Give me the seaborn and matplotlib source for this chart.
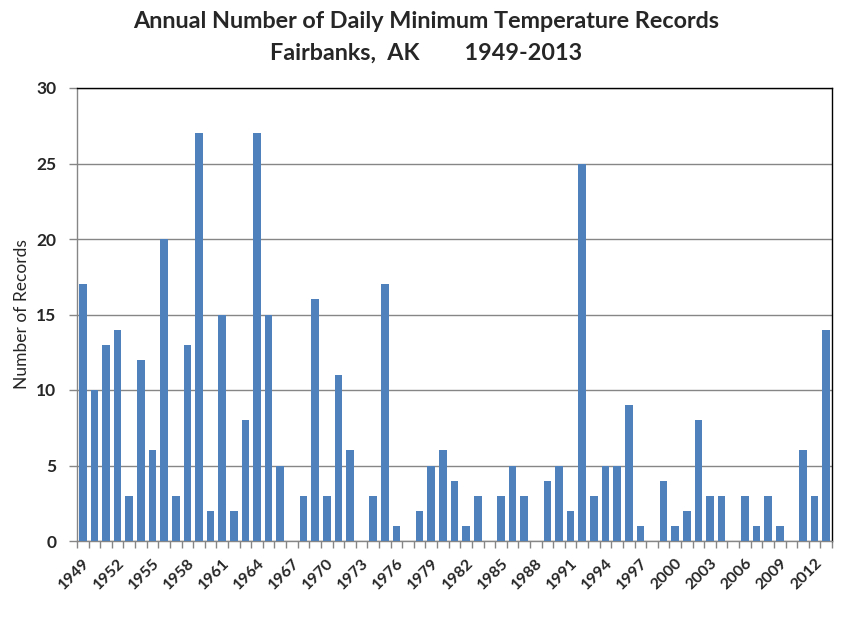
import numpy as np
import pandas as pd
import matplotlib
matplotlib.use("Agg")
import matplotlib.pyplot as plt
import seaborn as sns
from matplotlib.ticker import MultipleLocator, FixedLocator

# %% data

years = list(range(1949, 2014))
records = [17, 10, 13, 14, 3, 12, 6, 20, 3, 13,
           27, 2, 15, 2, 8, 27, 15, 5, 0, 3,
           16, 3, 11, 6, 0, 3, 17, 1, 0, 2,
           5, 6, 4, 1, 3, 0, 3, 5, 3, 0,
           4, 5, 2, 25, 3, 5, 5, 9, 1, 0,
           4, 1, 2, 8, 3, 3, 0, 3, 1, 3,
           1, 0, 6, 3, 14]
label_years = years[::3]

df = pd.DataFrame({"year": [str(y) for y in years], "records": records})

# %% config

sns.set_theme(style="white")
plt.rcParams['font.family'] = ['Lato', 'DejaVu Sans']

fig = plt.figure(figsize=(8.51, 6.38), dpi=100)
ax = fig.add_axes([77 / 851, 1 - 541 / 638, (832 - 77) / 851, (541 - 88) / 638])

# %% plot

sns.barplot(data=df, x="year", y="records", color="#4F81BD", saturation=1,
            width=0.66, linewidth=0, ax=ax, zorder=3)

ax.set_xlim(-0.5, len(years) - 0.5)
ax.set_ylim(0, 30)
ax.yaxis.set_major_locator(MultipleLocator(5))
ax.yaxis.grid(True, color="#868686", linewidth=1, zorder=0)
ax.set_axisbelow(True)

ax.set_xticks([years.index(y) for y in label_years])
ax.set_xticklabels([str(y) for y in label_years], rotation=45, ha="right",
                   rotation_mode="anchor", fontsize=11.5, fontweight="bold")
ax.xaxis.set_minor_locator(FixedLocator(np.arange(-0.5, len(years), 1)))
ax.tick_params(axis="x", which="major", length=0, pad=11)
ax.tick_params(axis="x", which="minor", length=5, width=1, color="#868686",
               direction="out", bottom=True)
ax.tick_params(axis="y", length=6, width=1, color="#868686", direction="out",
               left=True, pad=9, labelsize=12.5)
for lab in ax.get_yticklabels():
    lab.set_fontweight("bold")

ax.set_xlabel("")
ax.set_ylabel("Number of Records", fontsize=12.5, labelpad=4)

for side in ["top", "right"]:
    ax.spines[side].set_color("black")
    ax.spines[side].set_linewidth(1)
for side in ["left", "bottom"]:
    ax.spines[side].set_color("#868686")
    ax.spines[side].set_linewidth(1)

fig.text(426 / 851, 1 - 22 / 638, "Annual Number of Daily Minimum Temperature Records",
         ha="center", va="center", fontsize=16.8, fontweight="bold")
fig.text(426 / 851, 1 - 53 / 638, "Fairbanks,  AK        1949-2013",
         ha="center", va="center", fontsize=16.8, fontweight="bold")

fig.savefig("out.png", dpi=100)
